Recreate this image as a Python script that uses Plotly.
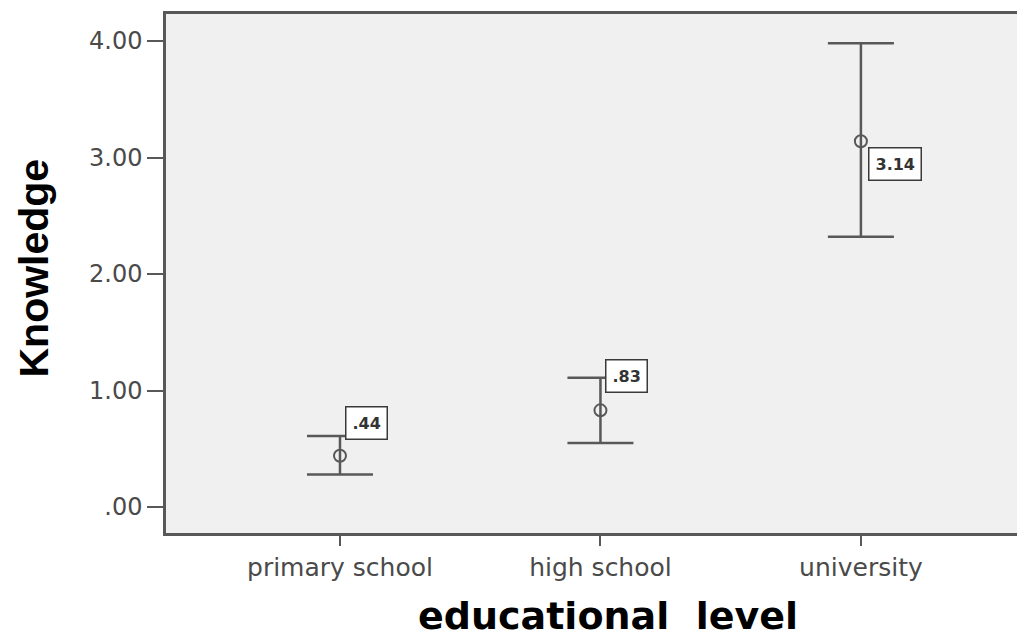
import plotly.graph_objects as go

categories = ["primary school", "high school", "university"]
means = [0.44, 0.83, 3.14]
upper = [0.61, 1.11, 3.98]
lower = [0.28, 0.55, 2.32]
mean_labels = [".44", ".83", "3.14"]
y_tickvals = [0, 1, 2, 3, 4]
y_ticktext = [".00", "1.00", "2.00", "3.00", "4.00"]

# label offsets in pixels (style)
label_xshift = [5, 5, 7]
label_yshift = [33, 34, -23]

xpos = list(range(len(categories)))
err_plus = [u - m for u, m in zip(upper, means)]
err_minus = [m - l for m, l in zip(means, lower)]

LINE = "#585858"

fig = go.Figure()
fig.add_trace(go.Scatter(
    x=xpos, y=means, mode="markers",
    marker=dict(symbol="circle-open", size=12, color=LINE, line=dict(width=2, color=LINE)),
    error_y=dict(type="data", symmetric=False, array=err_plus, arrayminus=err_minus,
                 color=LINE, thickness=2.5, width=33),
    showlegend=False, hoverinfo="skip",
))

for i, (m, t) in enumerate(zip(means, mean_labels)):
    fig.add_annotation(
        x=xpos[i], y=m, xref="x", yref="y", text="<b>%s</b>" % t, showarrow=False,
        xanchor="left", yanchor="middle", xshift=label_xshift[i], yshift=label_yshift[i],
        font=dict(family="DejaVu Sans", size=16, color="#333333"),
        bgcolor="white", bordercolor="#3a3a3a", borderwidth=1.5, borderpad=6,
    )

fig.add_annotation(
    text="<b>Knowledge</b>", xref="paper", yref="paper", x=0, y=0.5,
    xanchor="center", yanchor="middle", xshift=-133, yshift=5, textangle=-90,
    showarrow=False, font=dict(family="Liberation Sans", size=41, color="black"),
)
fig.add_annotation(
    text="<b>educational\u00a0 level</b>", xref="paper", yref="paper", x=0.5, y=0,
    xanchor="center", yanchor="middle", xshift=12, yshift=-83,
    showarrow=False, font=dict(family="DejaVu Sans", size=38, color="black"),
)

fig.update_layout(
    width=1017, height=629,
    margin=dict(l=158, r=0, t=6, b=104),
    paper_bgcolor="white", plot_bgcolor="#f0f0f0",
    xaxis=dict(
        range=[-0.668, 2.63], tickvals=xpos, ticktext=categories,
        showgrid=False, zeroline=False, showline=True, linecolor=LINE, linewidth=2.5,
        mirror=True, ticks="outside", ticklen=10, tickwidth=2, tickcolor=LINE,
        tickfont=dict(family="DejaVu Sans", size=25, color="#4a4a4a"),
    ),
    yaxis=dict(
        range=[-0.223, 4.232], tickvals=y_tickvals, ticktext=y_ticktext,
        showgrid=False, zeroline=False, showline=True, linecolor=LINE, linewidth=2.5,
        mirror=False, ticks="outside", ticklen=16, tickwidth=2, tickcolor=LINE,
        tickfont=dict(family="DejaVu Sans", size=24, color="#4a4a4a"),
    ),
)

fig.write_html("out.html")
